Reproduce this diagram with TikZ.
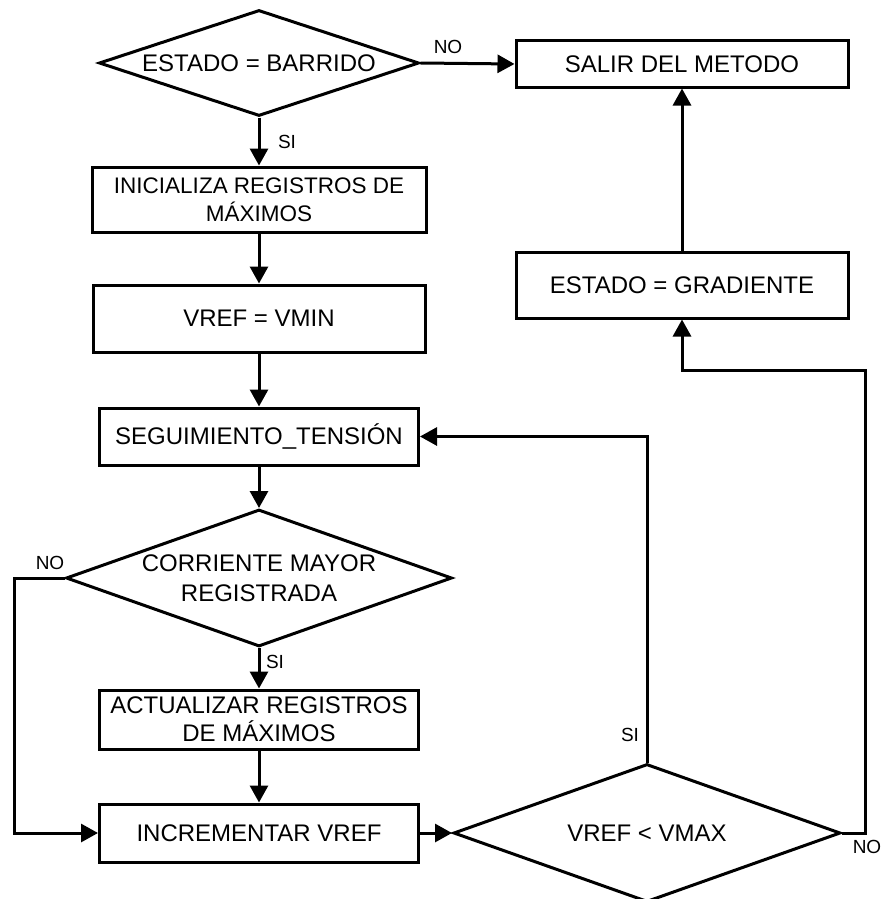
\documentclass[tikz,border=0pt]{standalone}
\usepackage{fontspec}
\setmainfont{Liberation Sans}
\usetikzlibrary{shapes.geometric,arrows.meta}

\begin{document}
\begin{tikzpicture}[x=1pt, y=-1pt, line width=3pt,
	caja/.style={draw, rectangle, inner sep=0pt, align=center, font=\fontsize{24}{28}\selectfont},
	rombo/.style={draw, diamond, inner sep=0pt, aspect=2.8, align=center, font=\fontsize{24}{30}\selectfont},
	etiq/.style={inner sep=0pt, font=\fontsize{19}{22}\selectfont},
	flecha/.style={-{Triangle[length=17pt,width=18pt]}}]
	\useasboundingbox (0,0) rectangle (882,899);

	% columna izquierda
	\node[rombo, minimum width=320pt, minimum height=106pt] (barrido) at (259,63) {ESTADO = BARRIDO};
	\node[caja, minimum width=334pt, minimum height=65pt, font=\fontsize{22.5}{28}\selectfont] (inicializa) at (259,199.5) {INICIALIZA REGISTROS DE\\M\'AXIMOS};
	\node[caja, minimum width=332pt, minimum height=67pt] (vmin) at (259,318.5) {VREF = VMIN};
	\node[caja, minimum width=319pt, minimum height=57pt] (seguimiento) at (259,436.5) {SEGUIMIENTO\_TENSI\'ON};
	\node[rombo, minimum width=386pt, minimum height=137pt] (corriente) at (259,578) {CORRIENTE MAYOR\\REGISTRADA};
	\node[caja, minimum width=319pt, minimum height=59pt] (actualizar) at (259,719.5) {ACTUALIZAR REGISTROS\\DE M\'AXIMOS};
	\node[caja, minimum width=319pt, minimum height=58pt] (incrementar) at (259,833) {INCREMENTAR VREF};

	% columna derecha
	\node[caja, minimum width=332pt, minimum height=46pt] (salir) at (682,64) {SALIR DEL METODO};
	\node[caja, minimum width=332pt, minimum height=66pt] (gradiente) at (682,285) {ESTADO = GRADIENTE};
	\node[rombo, minimum width=387pt, minimum height=138pt] (vmax) at (647,833) {VREF < VMAX};

	\coordinate (izq) at (14,578);
	\coordinate (der) at (865,370);

	\draw[flecha] (barrido.east) -- (salir.west);
	\draw[flecha] (barrido.south) -- (inicializa.north);
	\draw[flecha] (inicializa.south) -- (vmin.north);
	\draw[flecha] (vmin.south) -- (seguimiento.north);
	\draw[flecha] (seguimiento.south) -- (corriente.north);
	\draw[flecha] (corriente.south) -- (actualizar.north);
	\draw[flecha] (actualizar.south) -- (incrementar.north);
	\draw[flecha] (corriente.west) -- (izq) |- (incrementar.west);
	\draw[flecha] (incrementar.east) -- (vmax.west);
	\draw[flecha] (vmax.north) |- (seguimiento.east);
	\draw[flecha] (vmax.east) -| (der) -| (gradiente.south);
	\draw[flecha] (gradiente.north) -- (salir.south);

	\node[etiq] (no1) at (448,47) {NO};
	\node[etiq] (si1) at (287,142) {SI};
	\node[etiq] (no2) at (50,563) {NO};
	\node[etiq] (si2) at (275,662) {SI};
	\node[etiq] (si3) at (630,735) {SI};
	\node[etiq] (no3) at (867,847) {NO};
\end{tikzpicture}
\end{document}
